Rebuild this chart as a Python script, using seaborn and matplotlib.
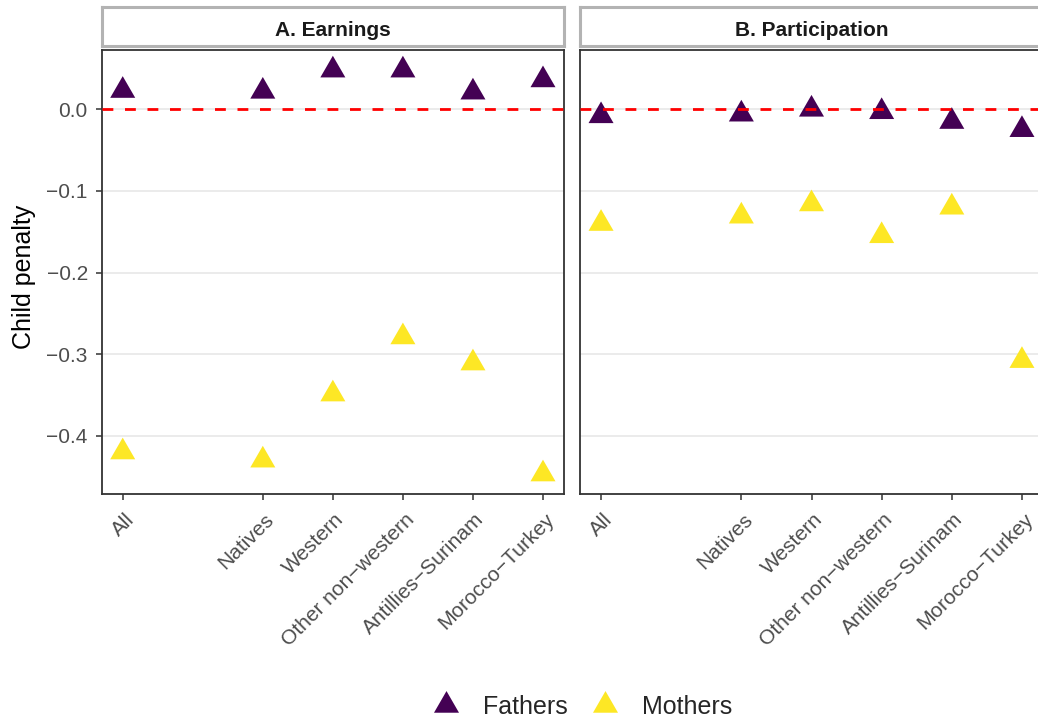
import numpy as np
import pandas as pd
import matplotlib
matplotlib.use("Agg")
import matplotlib.pyplot as plt
from matplotlib.lines import Line2D
from matplotlib.transforms import ScaledTranslation
import seaborn as sns

# ---- data -------------------------------------------------------------
groups = ["All", "Natives", "Western", "Other non\u2212western",
          "Antillies\u2212Surinam", "Morocco\u2212Turkey"]
group_x = [1, 3, 4, 5, 6, 7]
panels = ["A. Earnings", "B. Participation"]
parents = ["Fathers", "Mothers"]

earnings_fathers = [0.023, 0.022, 0.048, 0.048, 0.021, 0.036]
earnings_mothers = [-0.420, -0.430, -0.349, -0.279, -0.311, -0.447]
participation_fathers = [-0.008, -0.006, 0.000, -0.003, -0.015, -0.025]
participation_mothers = [-0.140, -0.131, -0.116, -0.155, -0.120, -0.308]

y_breaks = [-0.4, -0.3, -0.2, -0.1, 0.0]
y_labels = ["\u22120.4", "\u22120.3", "\u22120.2", "\u22120.1", "0.0"]

rows = []
for panel, fathers, mothers in [(panels[0], earnings_fathers, earnings_mothers),
                                (panels[1], participation_fathers, participation_mothers)]:
    for g, x, vf, vm in zip(groups, group_x, fathers, mothers):
        rows.append({"panel": panel, "group": g, "x": x, "parent": "Fathers", "penalty": vf})
        rows.append({"panel": panel, "group": g, "x": x, "parent": "Mothers", "penalty": vm})
df = pd.DataFrame(rows)

palette = {"Fathers": "#440154", "Mothers": "#FDE725"}

# ---- style ------------------------------------------------------------
sns.set_style("white")
plt.rcParams["font.family"] = ["Liberation Sans", "DejaVu Sans"]

W, H = 1038, 725
fig = plt.figure(figsize=(W / 100, H / 100), dpi=100)


def px_rect(x0, y0, x1, y1):
    return [x0 / W, 1 - y1 / H, (x1 - x0) / W, (y1 - y0) / H]


# filled triangle centred on its centroid
tri = [(0.0, 0.57735), (-0.5, -0.288675), (0.5, -0.288675)]
ms = 20.8

# shared y scale with 5% expansion
ymin, ymax = df["penalty"].min(), df["penalty"].max()
pad_y = 0.05 * (ymax - ymin)
ylim = (ymin - pad_y, ymax + pad_y)
pad_x = 0.05 * (max(group_x) - min(group_x))
xlim = (min(group_x) - pad_x, max(group_x) + pad_x)

panel_boxes = [(101.7, 50, 564, 494.3), (580, 50, 1043, 494.3)]
strip_boxes = [(101.7, 7.5, 564, 46), (580, 7.5, 1043, 46)]

tick_col = "#333333"
text_col = "#4d4d4d"

for i, panel in enumerate(panels):
    ax = fig.add_axes(px_rect(*panel_boxes[i]))
    sub = df[df["panel"] == panel]
    sns.scatterplot(data=sub, x="x", y="penalty", hue="parent", hue_order=parents,
                    palette=palette, marker=tri, s=ms ** 2, linewidth=0,
                    edgecolor="none", legend=False, ax=ax, zorder=3)
    ax.axhline(0, color="#ff0000", lw=2.0, ls=(0, (3.9, 4.2)), zorder=4)
    ax.set_xlim(*xlim)
    ax.set_ylim(*ylim)
    ax.set_xlabel("")
    ax.set_ylabel("")
    ax.set_yticks(y_breaks)
    ax.yaxis.grid(True, color="#ebebeb", lw=1.4, zorder=0)
    ax.xaxis.grid(False)
    ax.set_axisbelow(True)
    for sp in ax.spines.values():
        sp.set_color(tick_col)
        sp.set_linewidth(1.3)
        sp.set_visible(True)

    ax.set_xticks(group_x)
    ax.set_xticklabels(groups, rotation=45, ha="right", va="top",
                       rotation_mode="anchor", fontsize=15, color=text_col)
    ax.tick_params(axis="x", length=4.2, width=1.1, color=tick_col, pad=6.8,
                   bottom=True)
    shift = ScaledTranslation(1.5 / 100, 0, fig.dpi_scale_trans)
    for lab in ax.get_xticklabels():
        lab.set_transform(lab.get_transform() + shift)

    if i == 0:
        ax.set_yticklabels(y_labels, fontsize=15, color=text_col)
        ax.tick_params(axis="y", length=4.2, width=1.1, color=tick_col, pad=5.8,
                       left=True)
    else:
        ax.tick_params(axis="y", left=False, labelleft=False)

    # facet strip
    sax = fig.add_axes(px_rect(*strip_boxes[i]))
    sax.set_xticks([])
    sax.set_yticks([])
    sax.set_facecolor("white")
    for sp in sax.spines.values():
        sp.set_color("#b3b3b3")
        sp.set_linewidth(2.2)
        sp.set_visible(True)
    cx = (panel_boxes[i][0] + panel_boxes[i][2]) / 2
    fig.text(cx / W, 1 - 36 / H, panel, ha="center", va="baseline",
             fontsize=15, fontweight="bold", color="#1a1a1a")

# axis title
fig.text(24 / W, 1 - 277 / H, "Child penalty", rotation=90, ha="center",
         va="center", fontsize=18, color="black")

# legend
handles = [Line2D([], [], ls="none", marker=tri, markersize=ms,
                  markerfacecolor=palette[p], markeredgewidth=0, label=p)
           for p in parents]
fig.legend(handles=handles, labels=parents, loc="center", ncol=2,
           bbox_to_anchor=(583 / W, 1 - 707 / H), frameon=False, fontsize=18,
           handlelength=1.0, handletextpad=0.98, columnspacing=0.98)

fig.savefig("out.png", dpi=100)
